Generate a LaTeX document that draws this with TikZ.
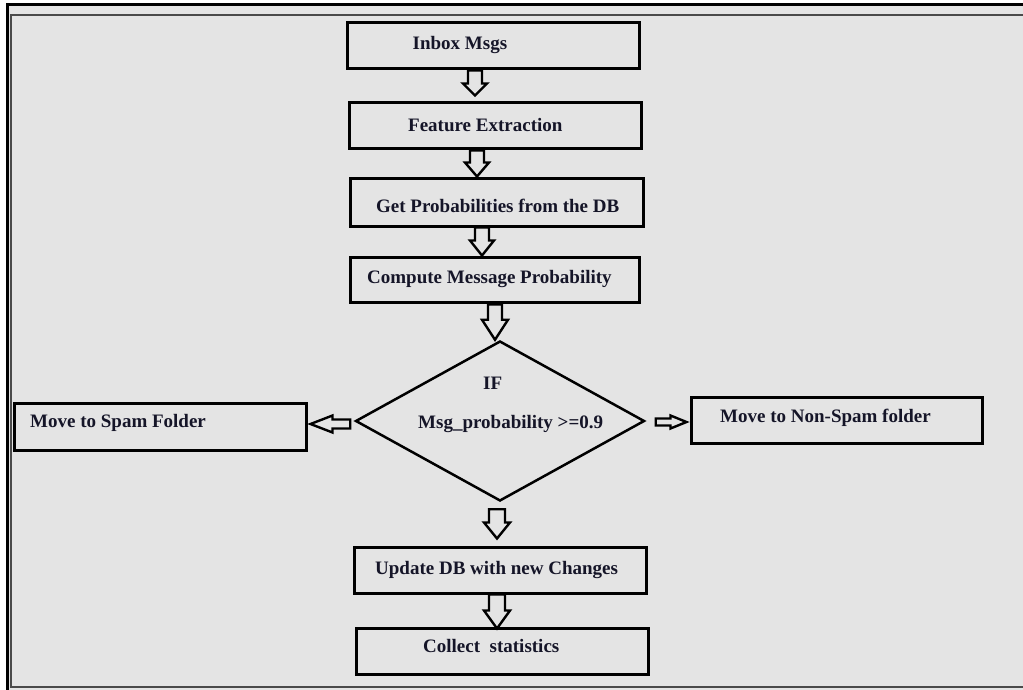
\documentclass[tikz,border=0pt]{standalone}
\usepackage{fontspec}
\setmainfont{Liberation Serif}
\usetikzlibrary{shapes.geometric,calc}

\definecolor{paper}{HTML}{E4E4E4}
\definecolor{ink}{HTML}{151528}
\definecolor{rule}{HTML}{4A4A4A}

% hollow block arrows: #1 start, #2 tip, #3 shaft half width, #4 head half width, #5 head length
\newcommand\blockdown[5]{%
  \draw[blockarrow] let \p1=#1, \p2=#2 in
    (\x1-#3,\y1) -- (\x1+#3,\y1) -- (\x1+#3,\y2+#5) -- (\x1+#4,\y2+#5)
    -- (\x1,\y2) -- (\x1-#4,\y2+#5) -- (\x1-#3,\y2+#5) -- cycle;}
\newcommand\blockleft[5]{%
  \draw[blockarrow] let \p1=#1, \p2=#2 in
    (\x1,\y1+#3) -- (\x2+#5,\y1+#3) -- (\x2+#5,\y1+#4) -- (\x2,\y1)
    -- (\x2+#5,\y1-#4) -- (\x2+#5,\y1-#3) -- (\x1,\y1-#3) -- cycle;}
\newcommand\blockright[5]{%
  \draw[blockarrow] let \p1=#1, \p2=#2 in
    (\x1,\y1+#3) -- (\x2-#5,\y1+#3) -- (\x2-#5,\y1+#4) -- (\x2,\y1)
    -- (\x2-#5,\y1-#4) -- (\x2-#5,\y1-#3) -- (\x1,\y1-#3) -- cycle;}

\tikzset{
  box/.style={draw=black, line width=3pt, rectangle, inner sep=0pt,
              minimum width=292pt, minimum height=46pt},
  lbl/.style={anchor=base west, inner sep=0pt, text=ink,
              font=\bfseries\fontsize{19}{22}\selectfont},
  blockarrow/.style={draw=black, line width=2.4pt, fill=paper, line join=miter},
}

\begin{document}
\begin{tikzpicture}[x=1pt, y=-1pt]
\useasboundingbox (0,0) rectangle (1023,690);

% page and frame
\fill[white] (0,0) rectangle (1023,690);
\fill[paper] (6,4) rectangle (1023,690);
\draw[black, line width=3pt] (1023,5) -- (7.5,5) -- (7.5,690);
\draw[rule, line width=1.3pt] (1023,15) -- (11,15) -- (11,687) -- (1023,687);

% process steps
\node[box] (inbox)   at (493,46)      {};
\node[box] (feat)    at (495,126)     {};
\node[box, minimum width=293pt, minimum height=47pt] (getp) at (496.5,202.5) {};
\node[box, minimum width=289pt, minimum height=45pt] (comp) at (494.5,279.5) {};
\node[diamond, draw=black, line width=2.5pt, inner sep=0pt, aspect=1.806,
      minimum width=289pt, minimum height=160pt] (dec) at (500,421) {};
\node[box, minimum height=47pt] (spam) at (160,426.5) {};
\node[box, minimum width=291pt] (nonspam) at (836.5,420) {};
\node[box] (update)  at (500,570)     {};
\node[box] (collect) at (502,651)     {};

% labels
\node[lbl] at (412.5,50)  {Inbox Msgs};
\node[lbl] at (408,132)   {Feature Extraction};
\node[lbl] at (376,212)   {Get Probabilities from the DB};
\node[lbl] at (367,283)   {Compute Message Probability};
\node[lbl] at (483,389)   {IF};
\node[lbl] at (418,428)   {Msg\_probability >=0.9};
\node[lbl] at (30,427)    {Move to Spam Folder};
\node[lbl] at (720,422)   {Move to Non-Spam folder};
\node[lbl] at (375,574)   {Update DB with new Changes};
\node[lbl] at (423,652)   {Collect\ \ statistics};

% connectors
\blockdown{([xshift=-18pt]inbox.south)}{([xshift=-18pt,yshift=6pt]feat.north)}{7}{12}{12}
\blockdown{([xshift=-18pt]feat.south)}{([xshift=-18pt,yshift=1pt]getp.north)}{7}{12}{14}
\blockdown{([xshift=-14.5pt]getp.south)}{([xshift=-14.5pt]comp.north)}{7}{12}{15}
\blockdown{([xshift=0.5pt,yshift=-1pt]comp.south)}{(dec.north)}{7}{13}{20}
\blockdown{([xshift=-3pt,yshift=-7pt]dec.south)}{([yshift=7pt]update.north)}{8}{13}{16}
\blockdown{([xshift=-3pt]update.south)}{([yshift=-2pt]collect.north)}{8}{13}{18}
\blockleft{([xshift=-4pt,yshift=-3pt]dec.west)}{([xshift=3pt]spam.east)}{4.5}{8.5}{22}
\blockright{([xshift=10pt,yshift=-1pt]dec.east)}{([xshift=-3pt]nonspam.west)}{3.5}{6.5}{16}
\end{tikzpicture}
\end{document}
